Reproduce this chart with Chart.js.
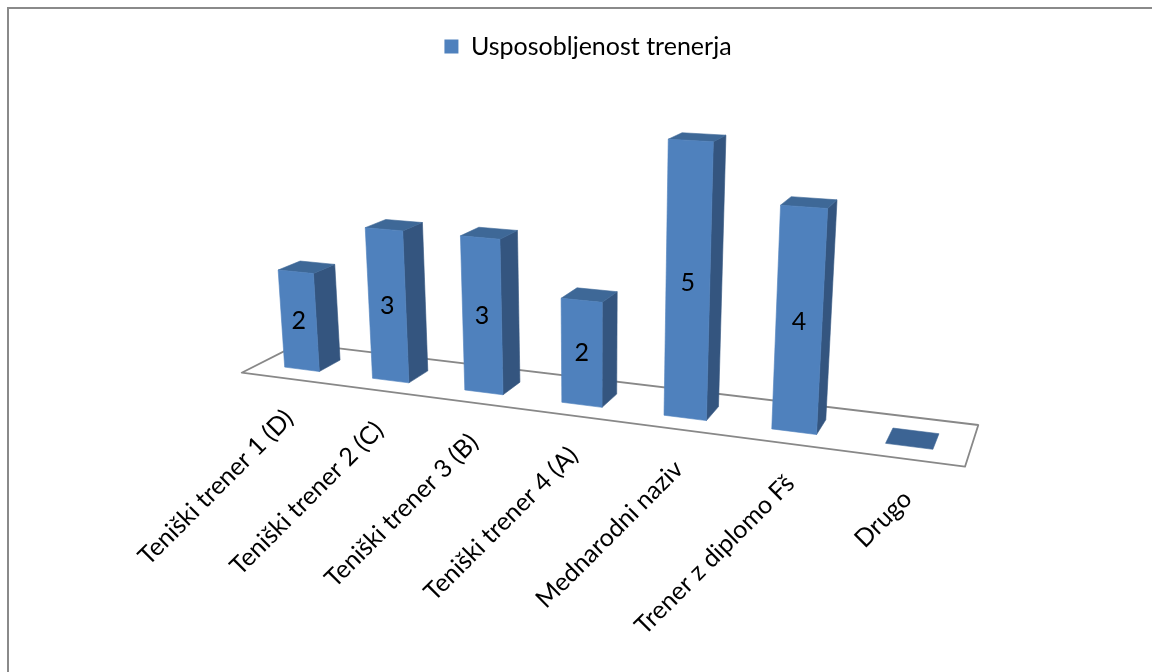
<!DOCTYPE html>
<html>
<head>
<meta charset="utf-8">
<script src="https://cdn.jsdelivr.net/npm/chart.js@4/dist/chart.umd.min.js"></script>
<style>
  html, body { margin: 0; padding: 0; background: #ffffff; width: 1152px; height: 672px; overflow: hidden; }
  #frame { position: absolute; left: 7px; top: 7px; width: 1300px; height: 800px;
           border-left: 2px solid #8a8a8a; border-top: 2px solid #8a8a8a; }
  #wrap { position: absolute; left: 8px; top: 8px; width: 1160px; height: 680px; }
</style>
</head>
<body>
<div id="frame"></div>
<div id="wrap"><canvas id="chart" width="1160" height="680"></canvas></div>
<script>
// Categories and values of the column series
const categories = [
  'Teniški trener 1 (D)',
  'Teniški trener 2 (C)',
  'Teniški trener 3 (B)',
  'Teniški trener 4 (A)',
  'Mednarodni naziv',
  'Trener z diplomo Fš',
  'Drugo'
];
const values = [2, 3, 3, 2, 5, 4, 0];
const seriesName = 'Usposobljenost trenerja';

// Face colours of the 3-D columns
const colors = { front: '#4F81BD', side: '#34557F', top: '#3E6897', flat: '#3C6494', floor: '#888888' };
const FONT = 'Lato, "Open Sans", sans-serif';
const FONT_SIZE = 25;

// Perspective camera in canvas pixels (homogeneous columns):
// X runs along the category axis (0..1 = floor width), Y is the value, Z is depth (0 front, 1 back).
const camera = {
  origin: [233.7, 364.7, 1],
  xAxis:  [560.61, 16.02, -0.17],
  yAxis:  [-6.156, -51.916, -0.0105],
  zAxis:  [77.42, -6.088, 0.06841]
};
const columnDepth = [0.29, 0.67];
const labelOffset = [4, 36];

function project(x, y, z) {
  const c = camera;
  const h = [0, 1, 2].map(k => c.origin[k] + x * c.xAxis[k] + y * c.yAxis[k] + z * c.zAxis[k]);
  return [h[0] / h[2], h[1] / h[2]];
}

function poly(ctx, pts, fill, stroke, lw) {
  ctx.beginPath();
  pts.forEach((p, i) => (i ? ctx.lineTo(p[0], p[1]) : ctx.moveTo(p[0], p[1])));
  ctx.closePath();
  if (fill) { ctx.fillStyle = fill; ctx.fill(); }
  if (stroke) { ctx.strokeStyle = stroke; ctx.lineWidth = lw; ctx.lineJoin = 'round'; ctx.stroke(); }
}

// Draws the floor, the 3-D columns, their value labels and the category labels
const columns3d = {
  id: 'columns3d',
  beforeDatasetsDraw(chart) {
    const ctx = chart.ctx;
    const area = chart.chartArea;
    const xScale = chart.scales.x;
    const yScale = chart.scales.y;
    const meta = chart.getDatasetMeta(0);
    const nx = px => (px - area.left) / area.width;
    const [z0, z1] = columnDepth;

    ctx.save();
    // floor
    poly(ctx, [project(0, 0, 0), project(1, 0, 0), project(1, 0, 1), project(0, 0, 1)],
         '#ffffff', colors.floor, 1.8);

    // columns, left to right
    meta.data.forEach((bar, i) => {
      const { x, width } = bar.getProps(['x', 'width'], true);
      const xl = nx(x - width / 2), xr = nx(x + width / 2);
      const v = yScale.getValueForPixel(bar.y);
      if (v <= 0.0001) {
        poly(ctx, [project(xl, 0, z0), project(xr, 0, z0), project(xr, 0, z1), project(xl, 0, z1)],
             colors.flat, colors.flat, 0.6);
        return;
      }
      poly(ctx, [project(xr, 0, z0), project(xr, 0, z1), project(xr, v, z1), project(xr, v, z0)],
           colors.side, colors.side, 0.6);
      poly(ctx, [project(xl, v, z0), project(xr, v, z0), project(xr, v, z1), project(xl, v, z1)],
           colors.top, colors.top, 0.6);
      poly(ctx, [project(xl, 0, z0), project(xr, 0, z0), project(xr, v, z0), project(xl, v, z0)],
           colors.front, colors.front, 0.6);

      const lp = project((xl + xr) / 2, v / 2, z0);
      ctx.fillStyle = '#000000';
      ctx.font = FONT_SIZE + 'px ' + FONT;
      ctx.textAlign = 'center';
      ctx.textBaseline = 'middle';
      ctx.fillText(String(values[i]), lp[0], lp[1]);
    });

    // category labels along the front edge of the floor
    ctx.font = FONT_SIZE + 'px ' + FONT;
    ctx.fillStyle = '#000000';
    ctx.textAlign = 'right';
    ctx.textBaseline = 'middle';
    categories.forEach((label, i) => {
      const p = project(nx(xScale.getPixelForValue(i)), 0, 0);
      ctx.save();
      ctx.translate(p[0] + labelOffset[0], p[1] + labelOffset[1]);
      ctx.rotate(-Math.PI / 4);
      ctx.fillText(label, 0, 0);
      ctx.restore();
    });
    ctx.restore();
    return false;
  }
};

new Chart(document.getElementById('chart'), {
  type: 'bar',
  data: {
    labels: categories,
    datasets: [{
      label: seriesName,
      data: values,
      backgroundColor: colors.front,
      categoryPercentage: 1,
      barPercentage: 0.4
    }]
  },
  options: {
    responsive: false,
    devicePixelRatio: 1,
    animation: false,
    events: [],
    layout: { padding: { top: 16, left: 0, right: 0, bottom: 0 } },
    scales: {
      x: { display: false, offset: true },
      y: { display: false, min: 0, max: 6 }
    },
    plugins: {
      legend: {
        position: 'top',
        labels: {
          boxWidth: 14, boxHeight: 14, padding: 10,
          color: '#000000',
          font: { family: FONT, size: FONT_SIZE }
        }
      },
      tooltip: { enabled: false }
    }
  },
  plugins: [columns3d]
});
</script>
</body>
</html>
